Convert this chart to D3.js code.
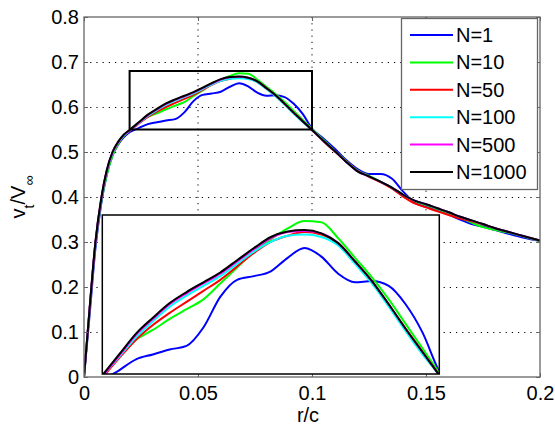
<!DOCTYPE html>
<html>
<head>
<meta charset="utf-8">
<script src="https://cdn.jsdelivr.net/npm/d3@7"></script>
<style>
  body { margin: 0; background: #fff; }
  svg { display: block; font-family: "Liberation Sans", Arial, sans-serif; }
</style>
</head>
<body>
<svg class="chart" width="555" height="428"></svg>
<script>
// r/c sample points
const rc = [0, 0.0025, 0.005, 0.0075, 0.01, 0.0125, 0.015, 0.0175, 0.02,
  0.024, 0.028, 0.032, 0.036, 0.04, 0.044, 0.048, 0.052, 0.056, 0.06, 0.064, 0.068, 0.072, 0.076, 0.08, 0.084, 0.088, 0.092, 0.096, 0.1,
  0.105, 0.11, 0.115, 0.12, 0.125, 0.13, 0.135, 0.14, 0.145, 0.15, 0.155, 0.16, 0.165, 0.17, 0.175, 0.18, 0.185, 0.19, 0.195, 0.2]

// v_t / V_inf for each N
const n1 = [0, 0.140, 0.285, 0.383, 0.450, 0.492, 0.517, 0.533, 0.544,
  0.553, 0.562, 0.566, 0.570, 0.573, 0.588, 0.613, 0.627, 0.630, 0.634, 0.645, 0.653, 0.646, 0.632, 0.625, 0.626, 0.622, 0.607, 0.584, 0.552,
  0.530, 0.507, 0.482, 0.462, 0.451, 0.451, 0.441, 0.412, 0.388, 0.378, 0.372, 0.361, 0.350, 0.340, 0.334, 0.327, 0.320, 0.313, 0.307, 0.302]
const n10 = [0, 0.152, 0.295, 0.388, 0.450, 0.492, 0.518, 0.536, 0.547,
  0.565, 0.578, 0.586, 0.595, 0.603, 0.611, 0.624, 0.637, 0.650, 0.660, 0.669, 0.675, 0.674, 0.661, 0.645, 0.629, 0.611, 0.591, 0.571, 0.551,
  0.527, 0.503, 0.480, 0.459, 0.447, 0.434, 0.421, 0.405, 0.391, 0.382, 0.373, 0.364, 0.354, 0.343, 0.333, 0.327, 0.322, 0.316, 0.309, 0.302]
const n50 = [0, 0.153, 0.297, 0.392, 0.457, 0.497, 0.520, 0.537, 0.547,
  0.563, 0.578, 0.590, 0.600, 0.609, 0.618, 0.627, 0.638, 0.649, 0.658, 0.663, 0.666, 0.664, 0.656, 0.641, 0.625, 0.606, 0.587, 0.568, 0.549,
  0.524, 0.501, 0.479, 0.458, 0.445, 0.433, 0.419, 0.401, 0.386, 0.377, 0.368, 0.360, 0.352, 0.346, 0.339, 0.331, 0.324, 0.317, 0.310, 0.303]
const n100 = [0, 0.152, 0.296, 0.392, 0.457, 0.497, 0.521, 0.537, 0.548,
  0.564, 0.580, 0.593, 0.605, 0.614, 0.622, 0.630, 0.640, 0.650, 0.658, 0.663, 0.664, 0.662, 0.655, 0.640, 0.624, 0.605, 0.585, 0.566, 0.549,
  0.525, 0.502, 0.478, 0.457, 0.446, 0.434, 0.421, 0.405, 0.392, 0.384, 0.375, 0.366, 0.356, 0.348, 0.340, 0.331, 0.324, 0.317, 0.310, 0.303]
const n500 = [0, 0.154, 0.298, 0.394, 0.459, 0.499, 0.522, 0.538, 0.548,
  0.565, 0.582, 0.595, 0.607, 0.616, 0.624, 0.632, 0.642, 0.652, 0.661, 0.666, 0.667, 0.665, 0.657, 0.642, 0.626, 0.607, 0.587, 0.568, 0.549,
  0.525, 0.502, 0.478, 0.457, 0.446, 0.434, 0.421, 0.405, 0.392, 0.384, 0.375, 0.366, 0.356, 0.348, 0.340, 0.331, 0.324, 0.317, 0.310, 0.303]
const n1000 = [0, 0.155, 0.300, 0.395, 0.460, 0.500, 0.523, 0.539, 0.549,
  0.566, 0.583, 0.596, 0.608, 0.617, 0.625, 0.633, 0.643, 0.653, 0.662, 0.6665, 0.6677, 0.665, 0.657, 0.642, 0.626, 0.607, 0.587, 0.568, 0.549,
  0.525, 0.502, 0.478, 0.457, 0.446, 0.434, 0.421, 0.405, 0.392, 0.384, 0.375, 0.366, 0.356, 0.348, 0.340, 0.331, 0.324, 0.317, 0.310, 0.303]

const names = ['N=1', 'N=10', 'N=50', 'N=100', 'N=500', 'N=1000']
const colors = ['#0000ff', '#00ff00', '#ff0000', '#00ffff', '#ff00ff', '#000000']
const values = [n1, n10, n50, n100, n500, n1000]

const xTicks = [0, 0.05, 0.1, 0.15, 0.2]
const xTickLabels = ['0', '0.05', '0.1', '0.15', '0.2']
const yTicks = [0, 0.1, 0.2, 0.3, 0.4, 0.5, 0.6, 0.7, 0.8]
const yTickLabels = ['0', '0.1', '0.2', '0.3', '0.4', '0.5', '0.6', '0.7', '0.8']

// zoom window shown in the inset
const zoomX = [0.02, 0.1]
const zoomY = [0.55, 0.68]

const series = names.map((n, i) => ({
  name: n, color: colors[i],
  points: rc.map((r, j) => [r, values[i][j]])
}))

const svg = d3.select('.chart')

const x = d3.scaleLinear().domain([0, 0.2]).range([84, 540])
const y = d3.scaleLinear().domain([0, 0.8]).range([377, 17])

const xi = d3.scaleLinear().domain(zoomX).range([102.3, 439.3])
const yi = d3.scaleLinear().domain(zoomY).range([374, 215])

const defs = svg.append('defs')
defs.append('clipPath').attr('id', 'clipMain')
  .append('rect').attr('x', 84).attr('y', 17).attr('width', 456).attr('height', 360)
defs.append('clipPath').attr('id', 'clipInset')
  .append('rect').attr('x', xi.range()[0]).attr('y', 215).attr('width', xi.range()[1] - xi.range()[0]).attr('height', 159)

// grid
const grid = svg.append('g').attr('stroke', '#000').attr('stroke-width', 1).attr('stroke-dasharray', '1.2,5')
grid.selectAll('.gx').data(xTicks.slice(1, -1)).join('line')
  .attr('x1', d => x(d)).attr('x2', d => x(d)).attr('y1', 17).attr('y2', 377)
grid.selectAll('.gy').data(yTicks.slice(1, -1)).join('line')
  .attr('y1', d => y(d) + 0.5).attr('y2', d => y(d) + 0.5).attr('x1', 84).attr('x2', 540)

// main curves
const line = d3.line().x(d => x(d[0])).y(d => y(d[1])).curve(d3.curveMonotoneX)
svg.append('g').attr('clip-path', 'url(#clipMain)')
  .selectAll('path').data(series).join('path')
  .attr('d', d => line(d.points))
  .attr('fill', 'none')
  .attr('stroke', d => d.color)
  .attr('stroke-width', 2)

// zoom window box
svg.append('rect')
  .attr('x', x(zoomX[0])).attr('y', y(zoomY[1]))
  .attr('width', x(zoomX[1]) - x(zoomX[0]))
  .attr('height', y(zoomY[0]) - y(zoomY[1]))
  .attr('fill', 'none').attr('stroke', '#000').attr('stroke-width', 2)

// axes
const axisColor = '#666'
const ax = svg.append('g')
ax.append('g').attr('transform', 'translate(0,377)')
  .call(d3.axisBottom(x).tickValues(xTicks).tickFormat((d, i) => xTickLabels[i]).tickSize(-4).tickPadding(9))
ax.append('g').attr('transform', 'translate(84,0)')
  .call(d3.axisLeft(y).tickValues(yTicks).tickFormat((d, i) => yTickLabels[i]).tickSize(-4).tickPadding(5))
ax.append('g').attr('transform', 'translate(0,17)')
  .call(d3.axisTop(x).tickValues(xTicks).tickFormat('').tickSize(-4))
ax.append('g').attr('transform', 'translate(540,0)')
  .call(d3.axisRight(y).tickValues(yTicks).tickFormat('').tickSize(-4))
ax.selectAll('.domain').remove()
ax.selectAll('.tick line').attr('stroke', axisColor)
ax.selectAll('.tick text')
  .attr('fill', '#000')
  .attr('font-size', 20)
  .attr('font-family', '"Liberation Sans", Arial, sans-serif')
svg.append('rect').attr('x', 84).attr('y', 17).attr('width', 456).attr('height', 360)
  .attr('fill', 'none').attr('stroke', axisColor).attr('stroke-width', 1.3)

// inset
const inset = svg.append('g')
inset.append('rect')
  .attr('x', xi.range()[0]).attr('y', 215).attr('width', xi.range()[1] - xi.range()[0]).attr('height', 159)
  .attr('fill', '#fff')
const lineIn = d3.line().x(d => xi(d[0])).y(d => yi(d[1])).curve(d3.curveMonotoneX)
inset.append('g').attr('clip-path', 'url(#clipInset)')
  .selectAll('path').data(series).join('path')
  .attr('d', d => lineIn(d.points))
  .attr('fill', 'none')
  .attr('stroke', d => d.color)
  .attr('stroke-width', 2)
inset.append('rect')
  .attr('x', xi.range()[0]).attr('y', 215).attr('width', xi.range()[1] - xi.range()[0]).attr('height', 159)
  .attr('fill', 'none').attr('stroke', '#000').attr('stroke-width', 1.5)

// labels
svg.append('text').attr('x', 308).attr('y', 422).attr('text-anchor', 'middle')
  .attr('font-size', 20).text('r/c')

const ylab = svg.append('text').attr('transform', 'translate(25,197) rotate(-90)')
  .attr('text-anchor', 'middle').attr('font-size', 20)
ylab.append('tspan').text('v')
ylab.append('tspan').attr('dy', 9).attr('font-size', 14).text('t')
ylab.append('tspan').attr('dy', -9).text('/V')
ylab.append('tspan').attr('dy', 9).attr('font-size', 14).text('∞')

// legend
const leg = svg.append('g')
leg.append('rect').attr('x', 401.5).attr('y', 18.5).attr('width', 136).attr('height', 171)
  .attr('fill', '#fff').attr('stroke', axisColor).attr('stroke-width', 1.3)
const item = leg.selectAll('.item').data(series).join('g')
  .attr('transform', (d, i) => `translate(0,${35 + i * 27.4})`)
item.append('line').attr('x1', 410).attr('x2', 453)
  .attr('stroke', d => d.color).attr('stroke-width', 2)
item.append('text').attr('x', 456).attr('dy', '0.35em').attr('font-size', 20)
  .text(d => d.name)
</script>
</body>
</html>
